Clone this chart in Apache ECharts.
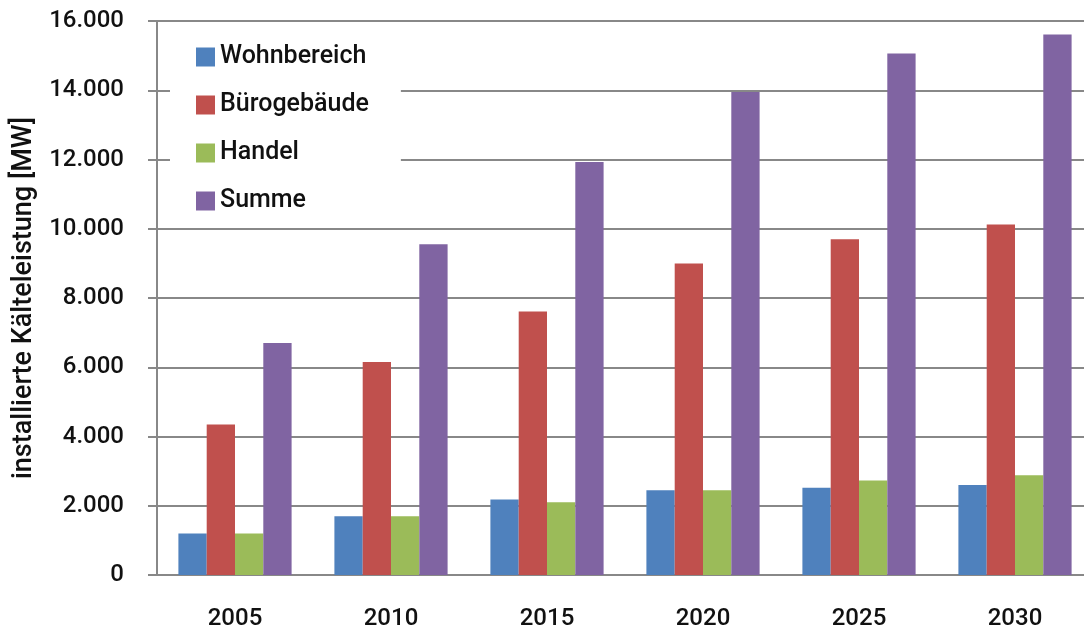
<!DOCTYPE html>
<html>
<head>
<meta charset="utf-8">
<script src="https://cdn.jsdelivr.net/npm/echarts@6/dist/echarts.min.js"></script>
<style>
  html, body { margin: 0; padding: 0; background: #fff; }
  #chart { width: 1084px; height: 632px; }
</style>
</head>
<body>
<div id="chart"></div>
<script>
const years = ['2005', '2010', '2015', '2020', '2025', '2030'];
const wohnbereich = [1200, 1700, 2180, 2450, 2520, 2600];
const buerogebaeude = [4350, 6150, 7610, 9000, 9700, 10120];
const handel = [1200, 1700, 2100, 2450, 2730, 2880];
const summe = [6700, 9550, 11930, 13950, 15060, 15610];

const fontFamily = 'Roboto, "DejaVu Sans Condensed", sans-serif';
const fontWeight = 500;
const textColor = '#111111';
const lineColor = '#888888';

const chart = echarts.init(document.getElementById('chart'));

const makeSeries = (name, data, color) => ({
  name: name,
  type: 'bar',
  data: data,
  barWidth: 28.3,
  barGap: '0%',
  itemStyle: { color: color }
});

const option = {
  animation: false,
  textStyle: { fontFamily: fontFamily },
  // plot runs a bit past the right edge of the picture
  grid: { left: 157, top: 21, right: -9, bottom: 57, outerBoundsMode: 'none' },
  legend: {
    orient: 'vertical',
    left: 170,
    top: 29,
    padding: [14, 32, 10, 26],
    backgroundColor: '#ffffff',
    itemWidth: 19,
    itemHeight: 19,
    itemGap: 20,
    icon: 'rect',
    textStyle: { color: textColor, fontSize: 25, lineHeight: 28, fontFamily: fontFamily, fontWeight: fontWeight },
    data: ['Wohnbereich', 'Bürogebäude', 'Handel', 'Summe']
  },
  xAxis: {
    type: 'category',
    data: years,
    axisLine: { lineStyle: { color: lineColor, width: 2 } },
    axisTick: { length: 8, lineStyle: { color: lineColor, width: 2 } },
    axisLabel: { color: textColor, fontSize: 24, margin: 32, fontFamily: fontFamily, fontWeight: fontWeight }
  },
  yAxis: {
    type: 'value',
    min: 0,
    max: 16000,
    interval: 2000,
    name: 'installierte Kälteleistung [MW]',
    nameLocation: 'middle',
    nameGap: 114,
    nameTextStyle: { color: textColor, fontSize: 27, fontFamily: fontFamily, fontWeight: fontWeight },
    axisLine: { show: true, lineStyle: { color: lineColor, width: 2 } },
    axisTick: { show: true, length: 9, lineStyle: { color: lineColor, width: 2 } },
    splitLine: { show: true, lineStyle: { color: lineColor, width: 2 } },
    axisLabel: {
      color: textColor,
      fontSize: 24,
      margin: 33,
      fontFamily: fontFamily,
      fontWeight: fontWeight,
      formatter: function (v) {
        return String(v).replace(/\B(?=(\d{3})+(?!\d))/g, '.');
      }
    }
  },
  series: [
    makeSeries('Wohnbereich', wohnbereich, '#4F81BD'),
    makeSeries('Bürogebäude', buerogebaeude, '#C0504D'),
    makeSeries('Handel', handel, '#9BBB59'),
    makeSeries('Summe', summe, '#8064A2')
  ]
};

chart.setOption(option);
</script>
</body>
</html>
